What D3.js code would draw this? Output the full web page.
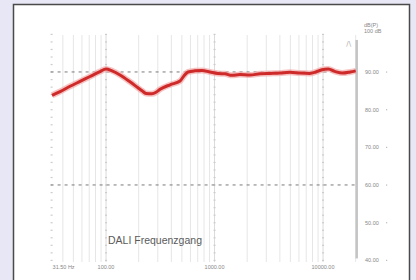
<!DOCTYPE html>
<html><head><meta charset="utf-8">
<script src="https://cdn.jsdelivr.net/npm/d3@7"></script>
<style>html,body{margin:0;padding:0;background:#e7e7f5;}svg{display:block;}</style>
</head><body>
<svg id="c" width="416" height="280"></svg>
<script>
const freqs = [31.8,37.7,46.6,57.6,71.2,88,100,113.6,134.6,166,197,214.7,233.7,265,289,315,389,481,524,570,661,768,907,1074,1249,1447,1712,2115,2620,3240,4000,4950,6110,7560,8590,9790,11170,12960,15020,17800,20000];
const levels = [83.8,84.8,86.2,87.5,88.8,90.1,90.8,90.3,89.2,87.4,85.8,85.0,84.3,84.2,84.6,85.4,86.6,87.6,89.0,90.0,90.3,90.4,90.0,89.6,89.5,89.1,89.3,89.2,89.5,89.6,89.7,89.9,89.7,89.6,90.0,90.6,90.8,90.1,89.7,90.0,90.3];
const yTicks = [90,80,70,60,50,40];
const yTickLabels = ["90.00","80.00","70.00","60.00","50.00","40.00"];
const xTicks = [31.5,100,1000,10000];
const xTickLabels = ["31.50 Hz","100.00","1000.00","10000.00"];
const dashedLevels = [90,60];
const title = "DALI Frequenzgang";

const svg = d3.select("#c");
svg.append("rect").attr("x",13.5).attr("y",4.5).attr("width",396).attr("height",290)
  .attr("fill","#fff").attr("stroke","#4a4a4a").attr("stroke-width",1.5);

const x = d3.scaleLog().domain([31.5,20000]).range([51.6,355.7]);
const y = d3.scaleLinear().domain([40,100]).range([260.3,34.3]);
const gTop = 35, gBot = 262;

// vertical grid lines
const grid = [];
for (let d = 10; d <= 10000; d *= 10) for (let m = 1; m <= 9; m++) { const f = d*m; if (f >= 31.5 && f <= 20000) grid.push(f); }
svg.append("g").selectAll("line").data(grid).join("line")
  .attr("x1",d=>x(d)).attr("x2",d=>x(d)).attr("y1",gTop).attr("y2",gBot)
  .attr("stroke",d=>[100,1000,10000].includes(d)?"#dadada":"#e6e6e6").attr("stroke-width",1);
// decade lines with dotted tick marks
const majors = [31.5,100,1000,10000];
const dots = d3.range(40,100.1,2);
svg.append("g").selectAll("g").data(majors).join("g").each(function(f){
  d3.select(this).selectAll("rect").data(dots).join("rect")
    .attr("x",x(f)-1).attr("y",d=>y(d)-0.5).attr("width",2).attr("height",1.2).attr("fill","#cccccc");
});

// dashed lines
svg.append("g").selectAll("line").data(dashedLevels).join("line")
  .attr("x1",x(31.5)-1).attr("x2",x(20000)).attr("y1",d=>y(d)).attr("y2",d=>y(d))
  .attr("stroke","#7a7a7a").attr("stroke-width",1).attr("stroke-dasharray","3,4");

// right axis bar
svg.append("line").attr("x1",x(20000)+1).attr("x2",x(20000)+1).attr("y1",y(98.5)).attr("y2",y(40.5))
  .attr("stroke","#c4c4c4").attr("stroke-width",2.5);
svg.append("text").attr("x",x(20000)-7).attr("y",y(97)).attr("font-family","DejaVu Sans").attr("font-size",7)
  .attr("fill","#aaa").attr("text-anchor","middle").text("/\\");

// y labels
const yl = svg.append("g").attr("font-family","Liberation Sans, Arial").attr("font-size",5.5).attr("fill","#888");
yl.selectAll("text").data(yTicks).join("text").attr("x",365).attr("y",d=>y(d)+2).text((d,i)=>yTickLabels[i]);
yl.selectAll("rect").data(yTicks).join("rect").attr("x",386).attr("y",d=>y(d)-0.5).attr("width",1.2).attr("height",1.2).attr("fill","#bbb");
yl.append("text").attr("x",364).attr("y",27).text("dB(P)");
yl.append("text").attr("x",364).attr("y",33).text("100 dB");

// x labels
const xl = svg.append("g").attr("font-family","Liberation Sans, Arial").attr("font-size",5.5).attr("fill","#888");
xl.selectAll("text").data(xTicks).join("text")
  .attr("x",(d,i)=>i===0?x(d)+1:x(d)).attr("y",269)
  .attr("text-anchor",(d,i)=>i===0?"start":"middle").text((d,i)=>xTickLabels[i]);

// curve
const line = d3.line().x((d,i)=>x(freqs[i])).y(d=>y(d)).curve(d3.curveMonotoneX);
svg.append("path").datum(levels).attr("d",line).attr("fill","none").attr("stroke","#f2a8a8").attr("stroke-width",6).attr("stroke-linejoin","round").attr("opacity",0.7);
svg.append("path").datum(levels).attr("d",line).attr("fill","none").attr("stroke","#cf2a2a").attr("stroke-width",3).attr("stroke-linejoin","round");

svg.append("text").attr("x",108).attr("y",244).attr("font-family","Liberation Sans, Arial").attr("font-size",10.5)
  .attr("fill","#5a5a5a").text(title);
</script>
</body></html>
